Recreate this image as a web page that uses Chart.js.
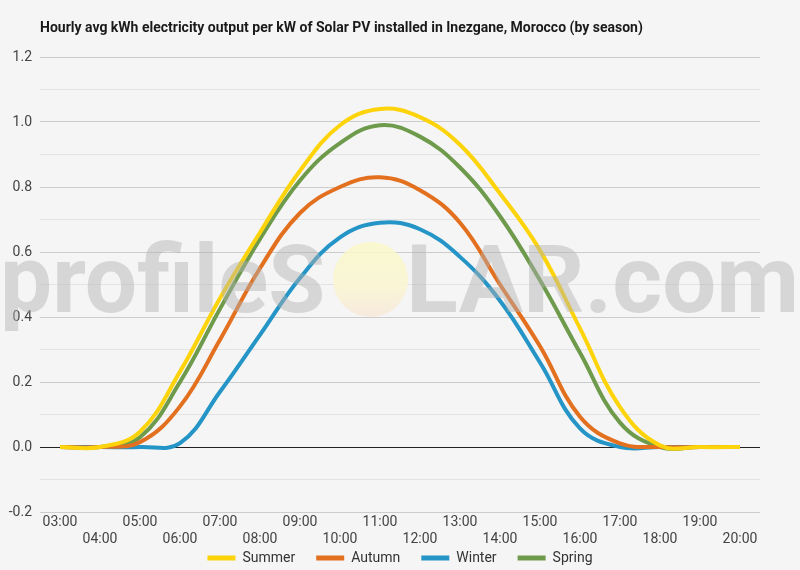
<!DOCTYPE html>
<html>
<head>
<meta charset="utf-8">
<script src="https://cdn.jsdelivr.net/npm/chart.js@4.4.1/dist/chart.umd.min.js"></script>
<style>
  html, body { margin: 0; padding: 0; background: #f5f5f5; }
  #wrap { width: 800px; height: 570px; position: relative; }
</style>
</head>
<body>
<div id="wrap"><canvas id="c" width="800" height="570"></canvas></div>
<script>
// ---- data ----
const hours = ["03:00","04:00","05:00","06:00","07:00","08:00","09:00","10:00","11:00","12:00","13:00","14:00","15:00","16:00","17:00","18:00","19:00","20:00"];
const summer = [0, 0, 0.047, 0.232, 0.458, 0.66, 0.85, 0.99, 1.04, 1.015, 0.93, 0.78, 0.605, 0.365, 0.123, 0.005, 0, 0];
const autumn = [0, 0, 0.015, 0.125, 0.33, 0.55, 0.72, 0.80, 0.83, 0.79, 0.69, 0.50, 0.31, 0.093, 0.011, 0, 0, 0];
const winter = [0, 0, 0, 0.012, 0.17, 0.345, 0.52, 0.645, 0.69, 0.67, 0.585, 0.45, 0.26, 0.057, 0, 0, 0, 0];
const spring = [0, 0, 0.03, 0.20, 0.425, 0.64, 0.82, 0.935, 0.99, 0.955, 0.86, 0.71, 0.513, 0.29, 0.075, 0, 0, 0];
const seriesNames = ["Summer", "Autumn", "Winter", "Spring"];
const yTicks = [-0.2, 0, 0.2, 0.4, 0.6, 0.8, 1.0, 1.2];
const titleText = "Hourly avg kWh electricity output per kW of Solar PV installed in Inezgane, Morocco (by season)";

const colors = ["#fdd40b", "#e3701f", "#2495c6", "#6e9a4b"];
const seriesData = [summer, autumn, winter, spring];

const bgPlugin = {
  id: 'bg',
  beforeDraw(chart) {
    const ctx = chart.ctx;
    ctx.save();
    ctx.fillStyle = '#f5f5f5';
    ctx.fillRect(0, 0, chart.width, chart.height);
    ctx.fillStyle = '#1a1a1a';
    ctx.font = 'bold 14px Roboto';
    ctx.textBaseline = 'middle';
    ctx.textAlign = 'left';
    ctx.fillText(titleText, 40, 28);
    ctx.restore();
  }
};

const legendShift = {
  id: 'legendShift',
  afterLayout(chart) {
    const lg = chart.legend;
    if (!lg) return;
    lg.top = 530;
    lg.bottom = 570;
    lg.height = 40;
    lg.left += 20; lg.right += 20;
  }
};

const watermark = {
  id: 'watermark',
  afterDatasetsDraw(chart) {
    const ctx = chart.ctx;
    ctx.save();
    const cx = 370.5, cy = 279.5, r = 37.5;
    const g = ctx.createLinearGradient(0, cy - r, 0, cy + r);
    g.addColorStop(0, 'rgba(250,248,200,0.85)');
    g.addColorStop(0.6, 'rgba(250,245,208,0.85)');
    g.addColorStop(1, 'rgba(247,232,218,0.85)');
    ctx.fillStyle = g;
    ctx.beginPath();
    ctx.arc(cx, cy, r, 0, Math.PI * 2);
    ctx.fill();
    ctx.font = 'bold 95px Roboto';
    ctx.fillStyle = 'rgba(178,178,178,0.45)';
    ctx.textBaseline = 'alphabetic';
    ctx.textAlign = 'left';
    const drawFit = (txt, x0, x1, base) => {
      const m = ctx.measureText(txt);
      const inkW = m.actualBoundingBoxRight + m.actualBoundingBoxLeft;
      const s = (x1 - x0) / inkW;
      ctx.save();
      ctx.translate(x0, base);
      ctx.scale(s, 1);
      ctx.fillText(txt, m.actualBoundingBoxLeft, 0);
      ctx.restore();
    };
    drawFit('profileS', 5, 323, 312);
    drawFit('LAR.com', 412, 795, 312);
    ctx.restore();
  }
};

const datasets = seriesData.map((d, i) => ({
  label: seriesNames[i],
  data: d,
  borderColor: colors[i],
  backgroundColor: colors[i],
  borderWidth: 4,
  pointRadius: 0,
  pointHoverRadius: 0,
  tension: 0.4,
  fill: false
}));

new Chart(document.getElementById('c'), {
  type: 'line',
  data: { labels: hours, datasets: datasets },
  plugins: [bgPlugin, watermark, legendShift],
  options: {
    responsive: false,
    animation: false,
    devicePixelRatio: 1,
    layout: { padding: { top: 57, right: 40, left: 0, bottom: 0 } },
    plugins: {
      title: { display: false },
      tooltip: { enabled: false },
      legend: {
        display: true,
        position: 'bottom',
        maxHeight: 18,
        labels: {
          boxWidth: 28,
          boxHeight: 5,
          padding: 21,
          color: '#333',
          font: { family: 'Roboto', size: 14 },
          generateLabels(chart) {
            return chart.data.datasets.map((ds, i) => ({
              text: ds.label,
              fillStyle: ds.borderColor,
              strokeStyle: ds.borderColor,
              lineWidth: 0,
              hidden: false,
              datasetIndex: i,
              fontColor: '#333'
            }));
          }
        }
      }
    },
    scales: {
      x: {
        type: 'category',
        offset: true,
        grid: { display: false, drawTicks: false },
        border: { display: false },
        ticks: {
          autoSkip: false,
          maxRotation: 0,
          minRotation: 0,
          padding: 2,
          color: '#444',
          font: { family: 'Roboto', size: 14 },
          callback(val, i) { return i % 2 === 0 ? hours[i] : ['', hours[i]]; }
        },
        afterFit(scale) { scale.height = 40; }
      },
      y: {
        min: -0.2,
        max: 1.2,
        border: { display: false },
        grid: {
          drawTicks: false,
          lineWidth: 1,
          color(ctx) {
            const v = Math.round(ctx.tick.value * 10);
            if (v === 0) return '#222';
            return v % 2 === 0 ? '#cccccc' : '#e3e3e3';
          }
        },
        ticks: {
          stepSize: 0.1,
          autoSkip: false,
          padding: 8,
          color: '#444',
          font: { family: 'Roboto', size: 14 },
          callback(v) {
            const k = Math.round(v * 10);
            if (k % 2 !== 0) return '';
            const t = yTicks.find(y => Math.round(y * 10) === k);
            return t === undefined ? '' : (Math.abs(t) < 1e-9 ? 0 : t).toFixed(1);
          }
        },
        afterFit(scale) { scale.width = 40; }
      }
    }
  }
});
</script>
</body>
</html>
